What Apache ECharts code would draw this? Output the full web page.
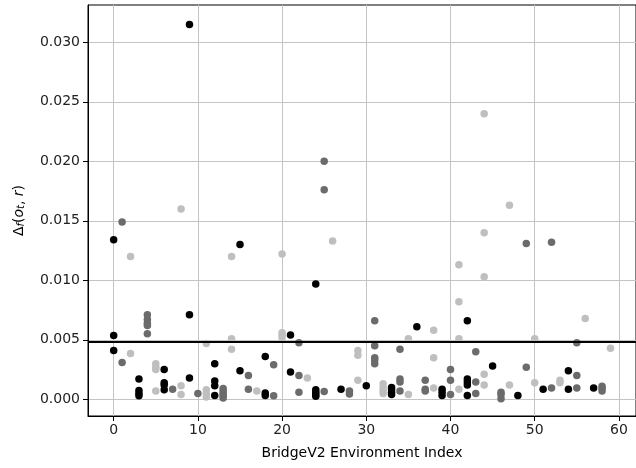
<!DOCTYPE html>
<html>
<head>
<meta charset="utf-8">
<script src="https://cdn.jsdelivr.net/npm/echarts@6/dist/echarts.min.js"></script>
<style>
  html, body { margin: 0; padding: 0; background: #fff; }
  #chart { width: 636px; height: 468px; }
</style>
</head>
<body>
<div id="chart"></div>
<script>
// ticks
var xTicks = [0, 10, 20, 30, 40, 50, 60];
var yTicks = [0, 0.005, 0.01, 0.015, 0.02, 0.025, 0.03];
var threshold = 0.00485;

// points [environment index, delta]
var blackPts = [
  [0, 0.0134], [0, 0.00537], [0, 0.0041],
  [3, 0.0017], [3, 0.00075], [3, 0.0005], [3, 0.0003],
  [6, 0.0025], [6, 0.0014], [6, 0.0012], [6, 0.0008],
  [9, 0.0315], [9, 0.0071], [9, 0.0018],
  [12, 0.0030], [12, 0.00155], [12, 0.00115], [12, 0.00032],
  [15, 0.0130], [15, 0.0024],
  [18, 0.0036], [18, 0.00053], [18, 0.00033],
  [21, 0.0054], [21, 0.0023],
  [24, 0.0097], [24, 0.0008], [24, 0.0006], [24, 0.0004], [24, 0.00025],
  [27, 0.00085],
  [30, 0.00115],
  [33, 0.001], [33, 0.0008], [33, 0.0006], [33, 0.0004],
  [36, 0.0061],
  [39, 0.00085], [39, 0.0006], [39, 0.00033],
  [42, 0.0066], [42, 0.0017], [42, 0.00145], [42, 0.0012], [42, 0.00033],
  [45, 0.0028],
  [48, 0.00033],
  [51, 0.00085],
  [54, 0.0024], [54, 0.00085],
  [57, 0.00095]
];
var darkPts = [
  [1, 0.0149], [1, 0.0031],
  [4, 0.0071], [4, 0.0067], [4, 0.0064], [4, 0.0062], [4, 0.0055],
  [7, 0.00085],
  [10, 0.0005],
  [13, 0.0009], [13, 0.0007], [13, 0.0005], [13, 0.0003], [13, 0.00012],
  [16, 0.0020], [16, 0.00085],
  [19, 0.0029], [19, 0.0003],
  [22, 0.00475], [22, 0.0020], [22, 0.0006],
  [25, 0.0200], [25, 0.0176], [25, 0.00065],
  [28, 0.0007], [28, 0.00045],
  [31, 0.0066], [31, 0.0045], [31, 0.0035], [31, 0.0033], [31, 0.0030],
  [34, 0.0042], [34, 0.0017], [34, 0.00145], [34, 0.0007],
  [37, 0.0016], [37, 0.00085], [37, 0.0007],
  [40, 0.0025], [40, 0.0016], [40, 0.0004],
  [43, 0.0040], [43, 0.00145], [43, 0.0005],
  [46, 0.0006], [46, 0.0004], [46, 0.00005],
  [49, 0.0131], [49, 0.0027],
  [52, 0.0132], [52, 0.00095],
  [55, 0.00475], [55, 0.0020], [55, 0.00095],
  [58, 0.0011], [58, 0.0009], [58, 0.0007]
];
var lightPts = [
  [2, 0.0120], [2, 0.00385],
  [5, 0.0030], [5, 0.0027], [5, 0.0025], [5, 0.0007],
  [8, 0.0160], [8, 0.00115], [8, 0.0004],
  [11, 0.0047], [11, 0.0008], [11, 0.0005], [11, 0.0002],
  [14, 0.0120], [14, 0.0051], [14, 0.0042],
  [17, 0.0007],
  [20, 0.0122], [20, 0.0056], [20, 0.0054], [20, 0.0052],
  [23, 0.0018],
  [26, 0.0133],
  [29, 0.0041], [29, 0.0037], [29, 0.0016],
  [32, 0.0013], [32, 0.001], [32, 0.00075], [32, 0.0005],
  [35, 0.0051], [35, 0.0004],
  [38, 0.0058], [38, 0.0035], [38, 0.00095],
  [41, 0.0113], [41, 0.0082], [41, 0.0051], [41, 0.00085],
  [44, 0.0240], [44, 0.0140], [44, 0.0103], [44, 0.0021], [44, 0.0012],
  [47, 0.0163], [47, 0.0012],
  [50, 0.0051], [50, 0.0014],
  [53, 0.0016], [53, 0.0014],
  [56, 0.0068],
  [59, 0.0043]
];

var font = 'DejaVu Sans';
var gridCol = '#c4c4c4';

var chart = echarts.init(document.getElementById('chart'));

function dots(name, pts, color) {
  return {
    name: name,
    type: 'scatter',
    data: pts,
    symbol: 'circle',
    symbolSize: 7.5,
    itemStyle: { color: color, opacity: 1 },
    silent: true
  };
}

var series = [
  dots('light', lightPts, '#bfbfbf'),
  dots('dark', darkPts, '#6b6b6b'),
  dots('black', blackPts, '#000000')
];
// horizontal threshold line (markLine rounds to 2 decimals by default -> precision)
series[2].markLine = {
  silent: true,
  precision: 6,
  symbol: ['none', 'none'],
  label: { show: false },
  lineStyle: { color: '#000', width: 2, type: 'solid' },
  data: [{ yAxis: threshold }],
  z: 10
};

chart.setOption({
  animation: false,
  backgroundColor: '#fff',
  grid: {
    left: 88, top: 5, right: -3, bottom: 52,
    show: true, borderColor: '#000', borderWidth: 1, backgroundColor: 'transparent'
  },
  xAxis: {
    type: 'value',
    min: -3.05, max: 62.03,
    name: 'BridgeV2 Environment Index',
    nameLocation: 'middle',
    nameGap: 30,
    nameTextStyle: { fontFamily: font, fontSize: 14, color: '#000' },
    axisLine: { show: true, onZero: false, lineStyle: { color: '#000', width: 1 } },
    axisTick: { show: true, length: 5, inside: false, customValues: xTicks, lineStyle: { color: '#000' } },
    axisLabel: { customValues: xTicks, margin: 7, fontFamily: font, fontSize: 14, color: '#222' },
    splitLine: { show: true, customValues: xTicks, lineStyle: { color: gridCol, width: 1 } }
  },
  yAxis: {
    type: 'value',
    min: -0.0014, max: 0.03313,
    name: '{d|Δ}{s|f}{n|(}{i|o}{s|t}{n|, }{i|r}{n|)}',
    nameLocation: 'middle',
    nameRotate: 90,
    nameGap: 62,
    nameTextStyle: {
      fontFamily: font, fontSize: 14, color: '#000',
      rich: {
        d: { fontFamily: font, fontSize: 14, color: '#000' },
        n: { fontFamily: font, fontSize: 14, color: '#000' },
        i: { fontFamily: font, fontSize: 14, fontStyle: 'italic', color: '#000' },
        s: { fontFamily: font, fontSize: 10, fontStyle: 'italic', color: '#000', verticalAlign: 'bottom', padding: [4, 0, 0, 0] }
      }
    },
    axisLine: { show: true, onZero: false, lineStyle: { color: '#000', width: 1 } },
    axisTick: { show: true, length: 5, inside: false, customValues: yTicks, lineStyle: { color: '#000' } },
    axisLabel: {
      customValues: yTicks, margin: 8, fontFamily: font, fontSize: 14, color: '#222',
      formatter: function (v) { return v.toFixed(3); }
    },
    splitLine: { show: true, customValues: yTicks, lineStyle: { color: gridCol, width: 1 } }
  },
  series: series
});
</script>
</body>
</html>
